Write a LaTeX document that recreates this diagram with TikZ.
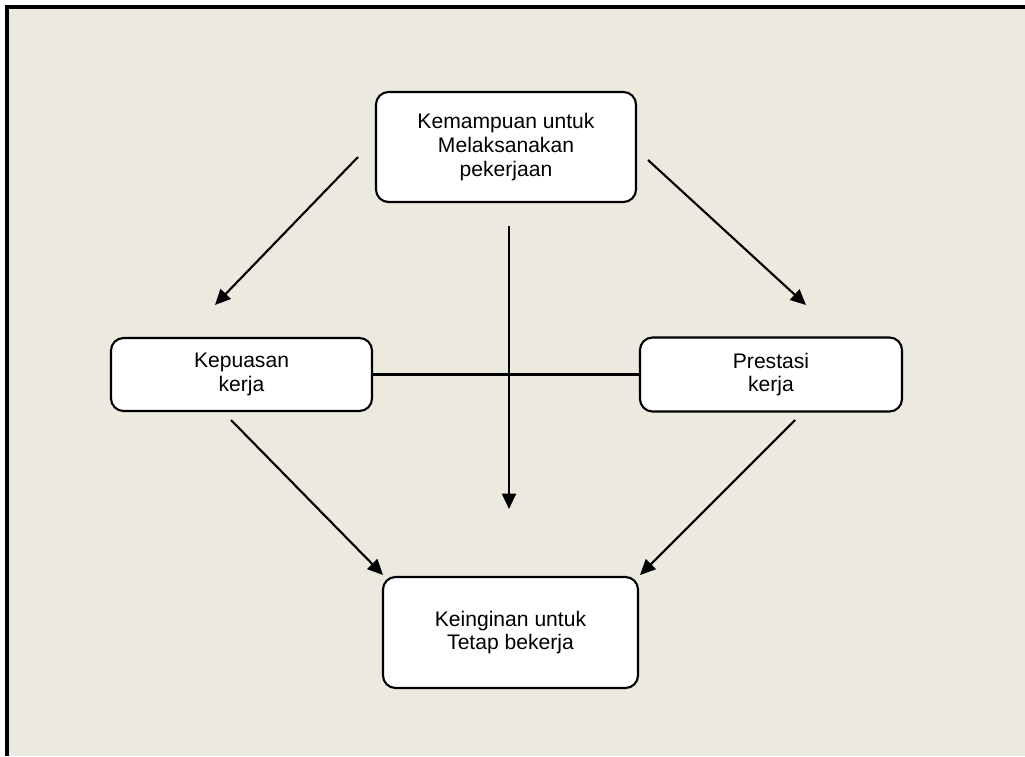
\documentclass[tikz,border=0pt]{standalone}
\usepackage{fontspec}
\setmainfont{Liberation Sans}
\usetikzlibrary{arrows.meta, positioning}

\definecolor{bgbeige}{HTML}{ECE9DF}

\begin{document}
\begin{tikzpicture}[x=0.025cm, y=-0.025cm,
    box/.style={draw, line width=1.5pt, rounded corners=9pt, fill=white, align=center,
        font=\fontsize{15}{16.8}\selectfont},
    arr/.style={-{Triangle[length=11pt, width=10pt]}, line width=1.5pt}]
    % Background and frame
    \useasboundingbox (0,0) rectangle (1025,756);
    \fill[white] (0,0) rectangle (1025,756);
    \fill[bgbeige] (7,7) rectangle (1025,756);
    \draw[line width=2.5pt] (7,756) -- (7,7) -- (1025,7);

    % Boxes
    \node[box, minimum width=6.5cm, minimum height=2.75cm] (ability) at (506,147)
        {Kemampuan untuk\\Melaksanakan\\pekerjaan};
    \node[box, minimum width=6.525cm, minimum height=1.825cm] (satisfaction) at (241.5,374.5)
        {Kepuasan\\kerja};
    \node[box, minimum width=6.55cm, minimum height=1.85cm] (performance) at (771,374.5)
        {Prestasi\\kerja};
    \node[box, minimum width=6.375cm, minimum height=2.775cm] (stay) at (510.5,632.5)
        {Keinginan untuk\\Tetap bekerja};

    % Free arrow ends
    \coordinate (a1) at (358,157);
    \coordinate (b1) at (215,305);
    \coordinate (a2) at (648,160);
    \coordinate (b2) at (806,305);
    \coordinate (a3) at (509,226);
    \coordinate (b3) at (509,509);
    \coordinate (a4) at (231,420);
    \coordinate (b4) at (383,575);
    \coordinate (a5) at (795,420);
    \coordinate (b5) at (640,575);

    % Connectors
    \draw[line width=1.5pt] (satisfaction.east) -- (performance.west);
    \draw[arr] (a1) -- (b1);
    \draw[arr] (a2) -- (b2);
    \draw[arr] (a3) -- (b3);
    \draw[arr] (a4) -- (b4);
    \draw[arr] (a5) -- (b5);
\end{tikzpicture}
\end{document}
